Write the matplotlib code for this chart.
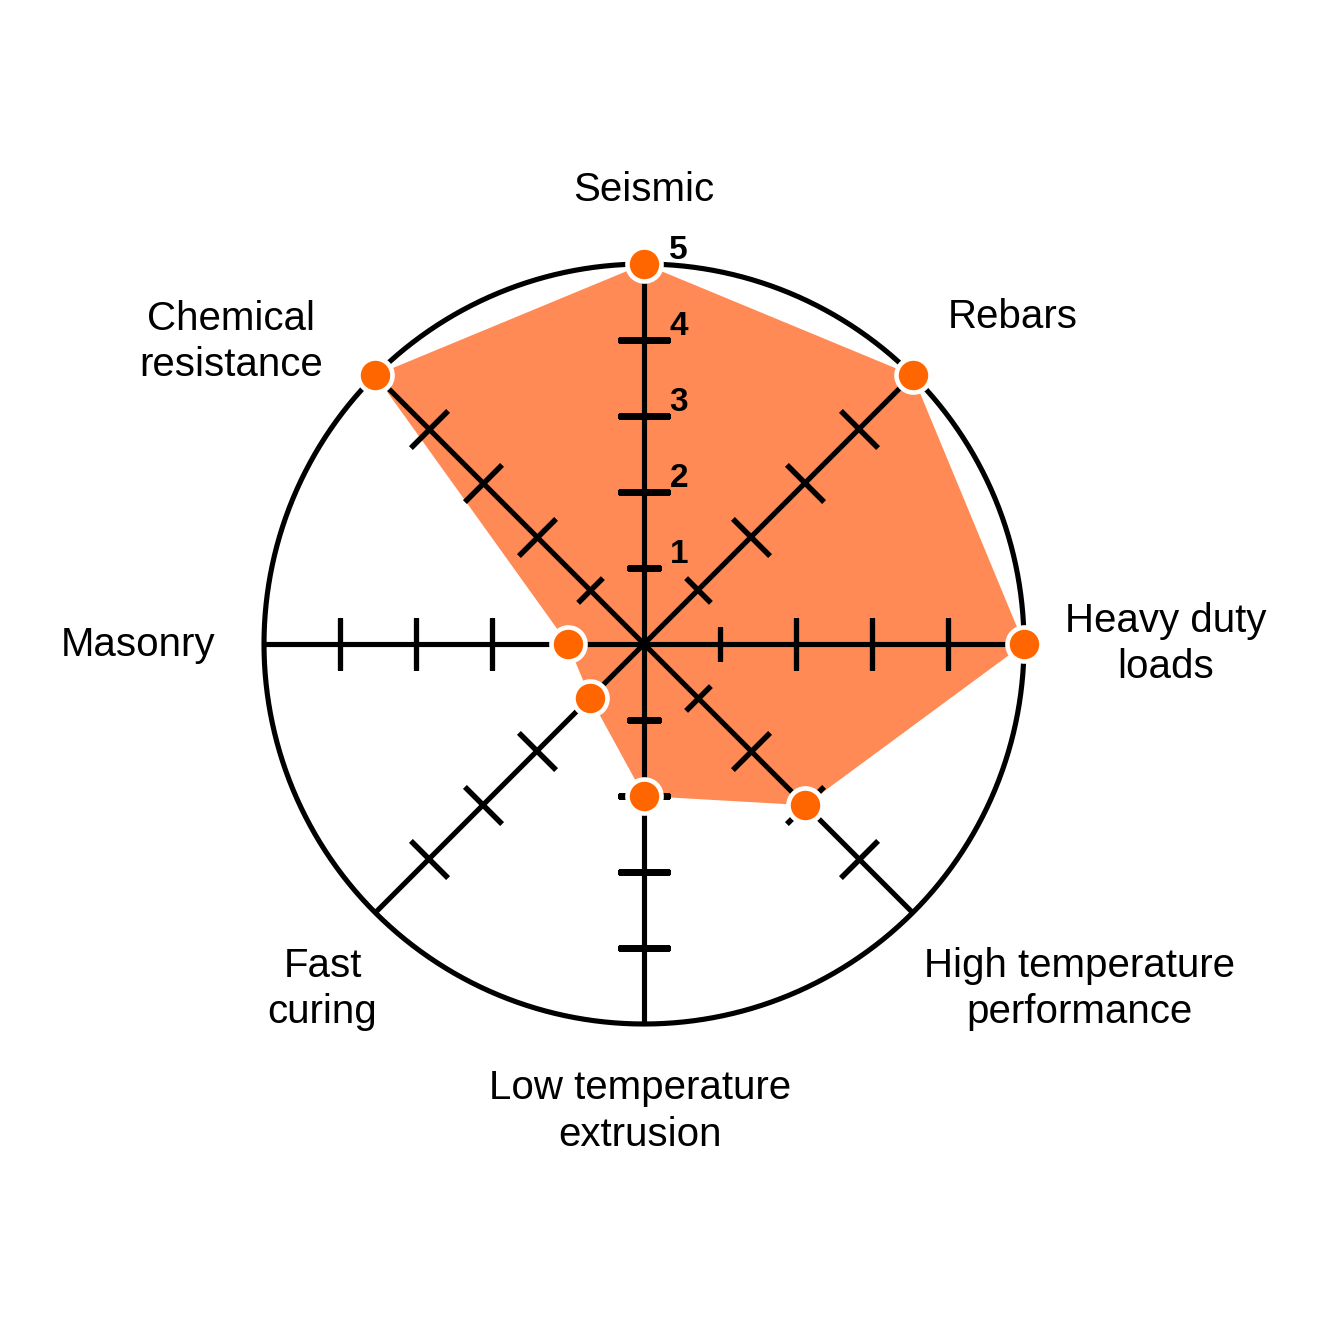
import numpy as np
import matplotlib.pyplot as plt

# ---------- Data ----------
categories = [
    "Seismic",
    "Rebars",
    "Heavy duty\nloads",
    "High temperature\nperformance",
    "Low temperature\nextrusion",
    "Fast\ncuring",
    "Masonry",
    "Chemical\nresistance",
]
values = [5, 5, 5, 3, 2, 1, 1, 5]
rings = [1, 2, 3, 4, 5]
ring_labels = ["1", "2", "3", "4", "5"]
r_max = 5

# label offsets from the spoke tip (points)
label_offsets = [
    (0, 53), (72, 42), (102, 0), (120, -55),
    (-3, -63), (-38, -55), (-91, -1), (-104, 24),
]

plt.rcParams["font.family"] = ["Liberation Sans", "DejaVu Sans"]

fill_color = "#FF8A55"
dot_color = "#FF6600"
lw = 3.7

fig = plt.figure(figsize=(13.33, 13.33), dpi=100)
# centre at (644, 644) px, 76 px per unit, r-limit 8
px = 1333.0
ax = fig.add_axes([(644 - 608) / px, (689 - 608) / px, 1216 / px, 1216 / px],
                  projection="polar")
ax.set_theta_zero_location("N")
ax.set_theta_direction(-1)
ax.set_ylim(0, 8)
ax.grid(False)
ax.set_xticks([])
ax.set_yticks([])
ax.spines["polar"].set_visible(False)
ax.patch.set_visible(False)

n = len(categories)
angles = np.arange(n) * 2 * np.pi / n

# ---------- Fill ----------
a_closed = np.append(angles, angles[0])
v_closed = np.append(values, values[0])
ax.fill(a_closed, v_closed, color=fill_color, lw=0, zorder=1)

# ---------- Frame: outer circle + spokes ----------
t = np.linspace(0, 2 * np.pi, 721)
ax.plot(t, np.full_like(t, r_max), color="black", lw=lw, zorder=2)
for a in angles:
    ax.plot([a, a], [0, r_max], color="black", lw=lw, zorder=2,
            solid_capstyle="butt")

# tick marks across each spoke
for a in angles:
    rot = 90 - np.degrees(a)
    for r in rings[:-1]:
        size = 25 if r == 1 else 37.5
        ax.plot([a], [r], linestyle="none", marker=(2, 2, rot),
                markersize=size, markeredgewidth=lw, color="black", zorder=3)

# ring value labels on the first spoke
for r, txt in zip(rings, ring_labels):
    ax.annotate(txt, xy=(0, r), xytext=(25, 10), textcoords="offset points",
                ha="center", va="center", fontsize=24, fontweight="bold",
                zorder=6, annotation_clip=False)

# ---------- Points ----------
ax.plot(angles, values, linestyle="none", marker="o", markersize=24.5,
        markerfacecolor=dot_color, markeredgecolor="white",
        markeredgewidth=3.3, zorder=5, clip_on=False)

# ---------- Category labels ----------
for a, lab, (dx, dy) in zip(angles, categories, label_offsets):
    ax.annotate(lab, xy=(a, r_max), xytext=(dx, dy), textcoords="offset points",
                ha="center", va="center", fontsize=29, linespacing=1.27,
                annotation_clip=False)

fig.savefig("out.png", dpi=100, facecolor="white")
